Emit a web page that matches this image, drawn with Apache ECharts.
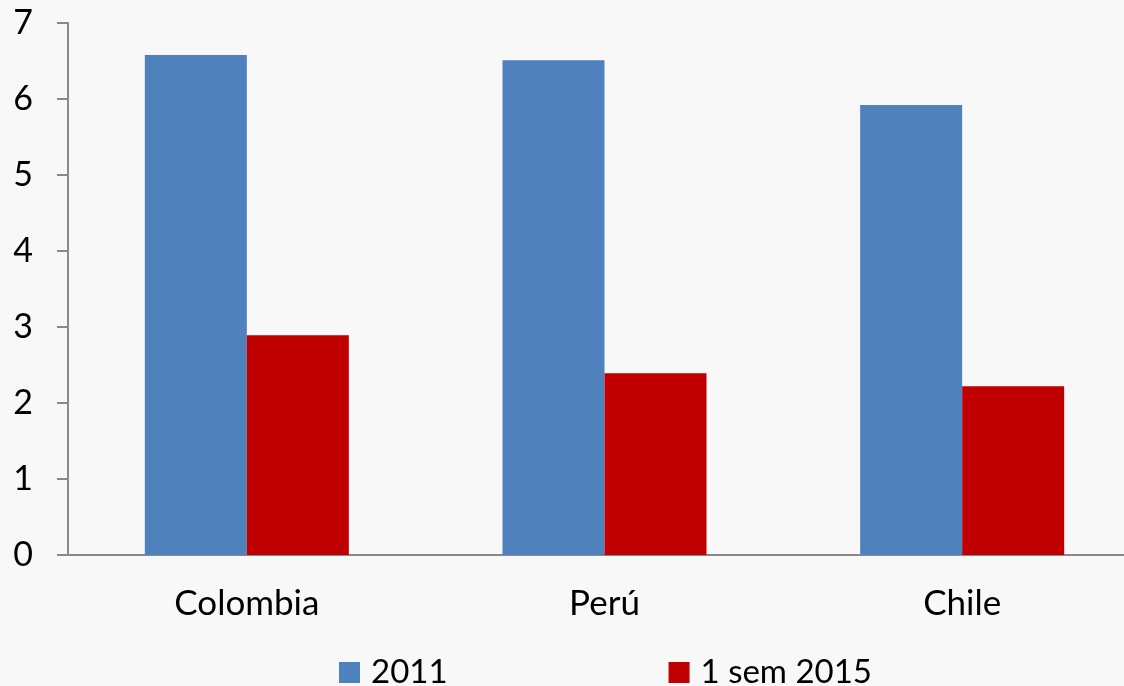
<!DOCTYPE html>
<html><head><meta charset="utf-8">
<script src="https://cdn.jsdelivr.net/npm/echarts@6/dist/echarts.min.js"></script>
<style>html,body{margin:0;padding:0;background:#f8f8f8;overflow:hidden;width:1124px;height:686px}#c{width:1141px;height:686px}</style>
</head><body><div id="c"></div>
<script>
const categories = ['Colombia', 'Perú', 'Chile'];
const seriesNames = ['2011', '1 sem 2015'];
const values2011 = [6.58, 6.51, 5.92];
const values2015 = [2.89, 2.39, 2.22];
const yTicks = [0, 1, 2, 3, 4, 5, 6, 7];

const axisColor = '#898989';
const font = 'Lato';
const chart = echarts.init(document.getElementById('c'), null, {renderer: 'canvas'});
chart.setOption({
  backgroundColor: '#f8f8f8',
  animation: false,
  grid: {left: 68, right: 0, top: 23, bottom: 131, containLabel: false},
  legend: {
    data: seriesNames, left: 334, top: 651, padding: 5, itemWidth: 21, itemHeight: 21, itemGap: 221,
    textStyle: {fontFamily: font, fontSize: 33, color: '#000', padding: [0, 0, 0, 6]}, icon: 'rect'
  },
  xAxis: {
    type: 'category', data: categories,
    axisLine: {lineStyle: {color: axisColor, width: 2}},
    axisTick: {length: 11, lineStyle: {color: axisColor, width: 2}},
    axisLabel: {fontFamily: font, fontSize: 35, color: '#000', margin: 31}
  },
  yAxis: {
    type: 'value', min: yTicks[0], max: yTicks[yTicks.length - 1], interval: 1,
    axisLine: {show: true, lineStyle: {color: axisColor, width: 2}},
    axisTick: {show: true, length: 11, lineStyle: {color: axisColor, width: 2}},
    splitLine: {show: false},
    axisLabel: {fontFamily: font, fontSize: 34, color: '#000', margin: 35}
  },
  series: [
    {name: seriesNames[0], type: 'bar', data: values2011, barWidth: 102, barGap: '0%', itemStyle: {color: '#4f81bd'}},
    {name: seriesNames[1], type: 'bar', data: values2015, barWidth: 102, barGap: '0%', itemStyle: {color: '#c00000'}}
  ]
});
</script></body></html>
